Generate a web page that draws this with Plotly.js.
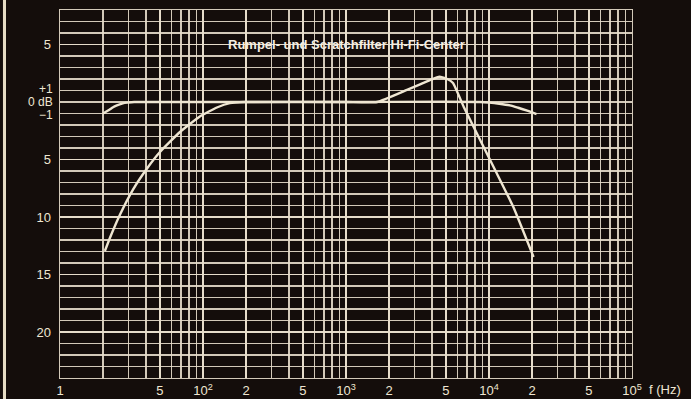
<!DOCTYPE html>
<html>
<head>
<meta charset="utf-8">
<script src="https://cdn.plot.ly/plotly-3.0.1.min.js"></script>
<style>
  html, body { margin: 0; padding: 0; background: #140d0b; }
  #chart { width: 691px; height: 399px; }
</style>
</head>
<body>
<div id="chart"></div>
<script>
// Frequency response of the rumble / scratch filter (frequency in Hz, level in dB)

// Filters off: gentle roll-off at both band edges
const flatFreq = [20, 22, 23.5, 25, 27.5, 30, 33, 40, 100, 1000, 8700, 10000, 11800, 14000, 16000, 18500, 21500];
const flatDb   = [-1.0, -0.7, -0.45, -0.3, -0.12, -0.05, 0, 0, 0, 0, 0, -0.05, -0.15, -0.3, -0.5, -0.75, -1.05];

// Rumble filter at the low end, scratch filter with presence lift at the high end
const filterFreq = [20.6, 22.4, 26.3, 32.4, 40.6, 50, 69, 95, 125, 154, 197, 1000, 1650, 2670, 3860, 4500, 5100, 5600, 6660, 8670, 11300, 14800, 20500];
const filterDb   = [-12.96, -11.78, -9.78, -7.61, -5.78, -4.35, -2.61, -1.26, -0.48, -0.1, 0, 0, 0, 1.05, 1.9, 2.2, 2.0, 1.65, -0.43, -3.3, -6.17, -9.13, -13.48];

// Axis labels
const xLabelVals = [10, 50, 100, 200, 500, 1000, 2000, 5000, 10000, 20000, 50000, 100000];
const xLabelText = ['1', '5', '10<sup>2</sup>', '2', '5', '10<sup>3</sup>', '2', '5', '10<sup>4</sup>', '2', '5', '10<sup>5</sup>'];
const yLabelVals = [5, -5, -10, -15, -20];
const yLabelText = ['5', '5', '10', '15', '20'];
// the tightly packed labels around the reference level
const yRefVals = [1, 0, -1];
const yRefText = ['+1', '0 dB', '\u22121'];
const yRefShift = [2, 0, -1.5];
const chartTitle = 'Rumpel- und Scratchfilter Hi-Fi-Center';
const xUnit = 'f (Hz)';

// Grid: 1..9 per decade on the frequency axis, 1 dB steps on the level axis
const xGrid = [];
[10, 100, 1000, 10000].forEach(d => { for (let m = 1; m <= 9; m++) xGrid.push(m * d); });
xGrid.push(100000);
const yGrid = [];
for (let v = -24; v <= 8; v++) yGrid.push(v);

const ink = '#efe6d2';
const gridInk = 'rgba(232,222,204,0.9)';
const font = 'Liberation Sans, Arial, Helvetica, sans-serif';

const traces = [
  { x: flatFreq, y: flatDb, mode: 'lines', line: { color: ink, width: 2.4, shape: 'spline', smoothing: 0.8 }, hoverinfo: 'skip' },
  { x: filterFreq, y: filterDb, mode: 'lines', line: { color: ink, width: 2.4, shape: 'spline', smoothing: 0.4 }, hoverinfo: 'skip' }
];

const gridStyle = { showgrid: true, gridcolor: gridInk, gridwidth: 1.4 };

const annotations = [
  { text: '<b>' + chartTitle + '</b>', xref: 'paper', yref: 'paper', x: 0.501, y: 0.905,
    xanchor: 'center', yanchor: 'middle', showarrow: false,
    font: { family: font, size: 13, color: '#f4eee2' } },
  { text: xUnit, xref: 'paper', yref: 'paper', x: 1.026, y: -0.03,
    xanchor: 'left', yanchor: 'middle', showarrow: false,
    font: { family: font, size: 13, color: ink } }
];
yRefVals.forEach((v, i) => annotations.push({
  text: yRefText[i], xref: 'paper', yref: 'y', x: 0, y: v,
  xanchor: 'right', yanchor: 'middle', xshift: -6, yshift: yRefShift[i],
  showarrow: false, borderpad: 0,
  font: { family: font, size: 12, color: ink }
}));

const layout = {
  width: 691, height: 399,
  margin: { l: 60, r: 59, t: 10, b: 21 },
  paper_bgcolor: '#140d0b',
  plot_bgcolor: '#140d0b',
  showlegend: false,
  font: { family: font, color: ink, size: 13 },
  xaxis: Object.assign({
    type: 'log', range: [1, 5],
    tickmode: 'array', tickvals: xLabelVals, ticktext: xLabelText,
    minor: Object.assign({ tickmode: 'array', tickvals: xGrid, ticks: '' }, gridStyle),
    showline: true, linecolor: gridInk, linewidth: 1.4, mirror: true,
    zeroline: false, ticks: '', ticklabelstandoff: 0,
    tickfont: { family: font, size: 13, color: ink }
  }, gridStyle),
  yaxis: Object.assign({
    range: [-24, 8],
    tickmode: 'array', tickvals: yLabelVals, ticktext: yLabelText,
    minor: Object.assign({ tickmode: 'array', tickvals: yGrid, ticks: '' }, gridStyle),
    showline: true, linecolor: gridInk, linewidth: 1.4, mirror: true,
    zeroline: false, ticks: '', ticklabelstandoff: 5,
    tickfont: { family: font, size: 13, color: ink }
  }, gridStyle),
  annotations: annotations,
  shapes: [
    // page edge on the left
    { type: 'rect', xref: 'paper', yref: 'paper', x0: -0.0997, x1: -0.0944, y0: -0.06, y1: 1.03,
      fillcolor: '#e6dcc4', line: { width: 0 }, layer: 'above' }
  ]
};

Plotly.newPlot('chart', traces, layout, { displayModeBar: false, staticPlot: true });
</script>
</body>
</html>
